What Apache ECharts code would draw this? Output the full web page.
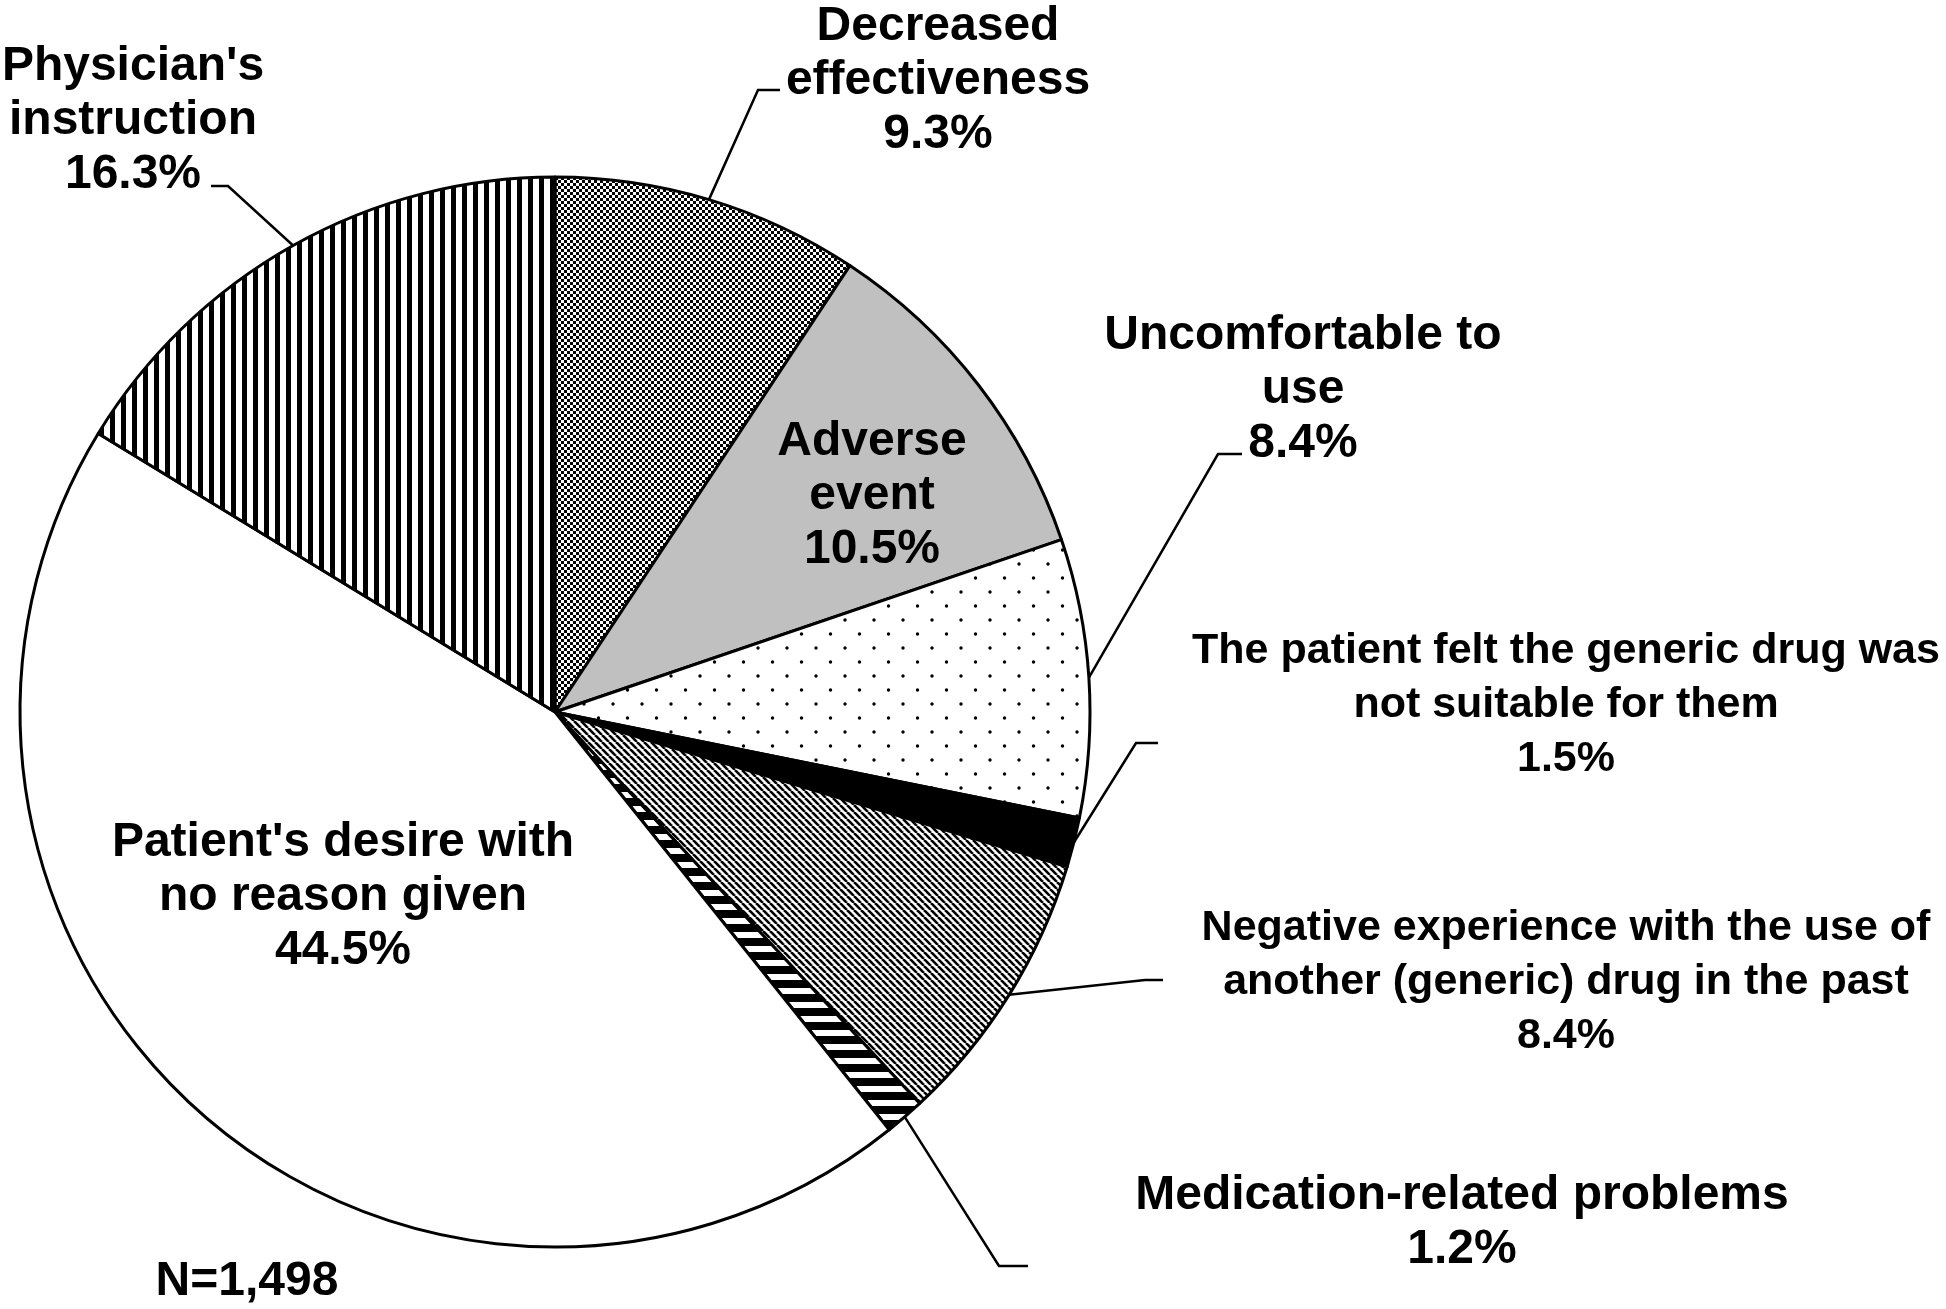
<!DOCTYPE html>
<html>
<head>
<meta charset="utf-8">
<script src="https://cdn.jsdelivr.net/npm/echarts@6/dist/echarts.min.js"></script>
<style>
  html, body { margin: 0; padding: 0; background: #fff; }
  #chart { width: 1946px; height: 1309px; }
</style>
</head>
<body>
<div id="chart"></div>
<script>
// reasons for switching back, clockwise from 12 o'clock
const reasons = [
  'Decreased\neffectiveness',
  'Adverse\nevent',
  'Uncomfortable to\nuse',
  'The patient felt the generic drug was\nnot suitable for them',
  'Negative experience with the use of\nanother (generic) drug in the past',
  'Medication-related problems',
  "Patient's desire with\nno reason given",
  "Physician's\ninstruction"
]
const shares = [9.3, 10.5, 8.4, 1.5, 8.4, 1.2, 44.5, 16.3]
const sampleSize = '1,498'

// small canvas tiles used as fill patterns
function pattern (w, h, draw) {
  const c = document.createElement('canvas')
  c.width = w
  c.height = h
  const ctx = c.getContext('2d')
  ctx.fillStyle = '#fff'
  ctx.fillRect(0, 0, w, h)
  ctx.fillStyle = '#000'
  ctx.strokeStyle = '#000'
  draw(ctx)
  return { image: c, repeat: 'repeat' }
}

const fills = [
  // fine checker
  pattern(6, 6, ctx => {
    ctx.fillRect(0, 0, 3, 3)
    ctx.fillRect(3, 3, 3, 3)
  }),
  '#c0c0c0',
  // sparse dots
  pattern(29, 28, ctx => {
    ctx.beginPath(); ctx.arc(4, 4, 1.7, 0, Math.PI * 2); ctx.fill()
    ctx.beginPath(); ctx.arc(18.5, 18, 1.7, 0, Math.PI * 2); ctx.fill()
  }),
  '#000',
  // dense downward diagonal
  pattern(7, 7, ctx => {
    ctx.lineWidth = 2.6
    for (const k of [-7, 0, 7]) {
      ctx.beginPath(); ctx.moveTo(k, 0); ctx.lineTo(k + 7, 7); ctx.stroke()
    }
  }),
  // wide horizontal bars
  pattern(14, 14, ctx => {
    ctx.fillRect(0, 0, 14, 8)
  }),
  '#fff',
  // vertical stripes
  pattern(11, 4, ctx => {
    ctx.fillRect(0, 0, 5, 4)
  })
]

// where each label block sits and the elbow of its leader line
const labelPlace = [
  { x: 938, y: 81, line: [[758, 90], [780, 90]] },
  { x: 872, y: 496 },
  { x: 1303, y: 390, line: [[1218, 454], [1242, 454]] },
  { x: 1566, y: 705, line: [[1136, 743], [1158, 743]], small: true },
  { x: 1566, y: 982, line: [[1145, 980], [1163, 980]], small: true },
  { x: 1462, y: 1223, line: [[999, 1266], [1028, 1266]] },
  { x: 343, y: 897 },
  { x: 133, y: 121, line: [[228, 186], [211, 186]] }
]

const center = [555, 712]
const radius = 535

const myChart = echarts.init(document.getElementById('chart'))

const data = shares.map((v, i) => {
  const p = labelPlace[i]
  const item = {
    name: reasons[i],
    value: v,
    itemStyle: { color: fills[i] },
    label: { position: p.line ? 'outside' : 'inside' },
    labelLine: { show: !!p.line }
  }
  if (p.small) {
    item.label.fontSize = 43
  }
  return item
})

// edge point at the middle of a slice (fallback for the leader start)
function edgePoint (idx) {
  const total = shares.reduce((a, b) => a + b, 0)
  let before = 0
  for (let i = 0; i < idx; i++) before += shares[i]
  const a = (before + shares[idx] / 2) / total * Math.PI * 2
  return [center[0] + radius * Math.sin(a), center[1] - radius * Math.cos(a)]
}

const option = {
  backgroundColor: '#fff',
  animation: false,
  series: [
    {
      type: 'pie',
      center: center,
      radius: radius,
      startAngle: 90,
      clockwise: true,
      avoidLabelOverlap: false,
      itemStyle: {
        borderColor: '#000',
        borderWidth: 3
      },
      label: {
        show: true,
        color: '#000',
        fontFamily: '"Liberation Sans", Arial, sans-serif',
        fontWeight: 'bold',
        fontSize: 48,
        lineHeight: 54,
        align: 'center',
        formatter: p => p.name + '\n' + p.value.toFixed(1) + '%'
      },
      labelLine: {
        lineStyle: { color: '#000', width: 2.5 }
      },
      labelLayout: function (params) {
        const p = labelPlace[params.dataIndex]
        const out = { x: p.x, y: p.y, align: 'center', verticalAlign: 'middle' }
        if (p.line) {
          const start = params.labelLinePoints ? params.labelLinePoints[0] : edgePoint(params.dataIndex)
          out.labelLinePoints = [start, p.line[0], p.line[1]]
        }
        return out
      },
      emphasis: { disabled: true },
      data: data
    }
  ],
  graphic: [
    {
      type: 'text',
      x: 247,
      y: 1282,
      style: {
        text: 'N=' + sampleSize,
        fill: '#000',
        fontFamily: '"Liberation Sans", Arial, sans-serif',
        fontWeight: 'bold',
        fontSize: 48,
        align: 'center',
        verticalAlign: 'middle'
      }
    }
  ]
}

myChart.setOption(option)
</script>
</body>
</html>
